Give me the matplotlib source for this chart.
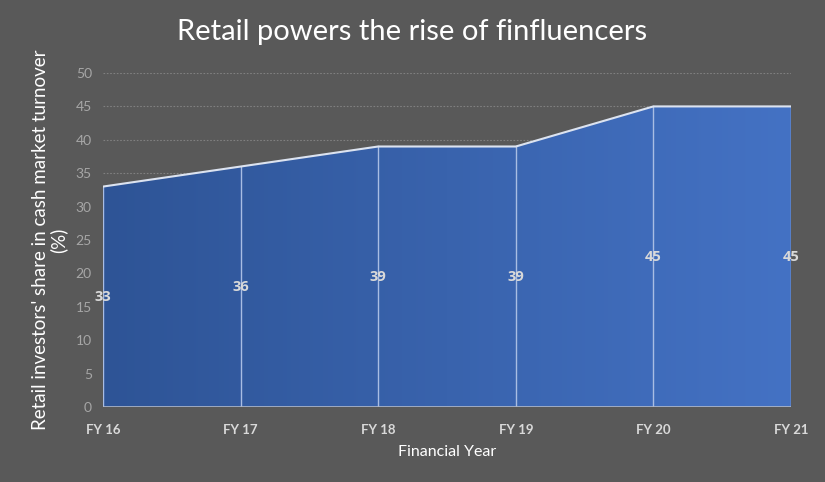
import matplotlib.pyplot as plt
import numpy as np
from matplotlib.colors import LinearSegmentedColormap

years = ["FY 16", "FY 17", "FY 18", "FY 19", "FY 20", "FY 21"]
share = [33, 36, 39, 39, 45, 45]

bg = "#595959"
plt.rcParams['font.family'] = ['Lato', 'DejaVu Sans']

fig = plt.figure(figsize=(8.25, 4.82), dpi=100, facecolor=bg)
ax = fig.add_axes([0.1248, 0.1556, 0.8340, 0.6929])
ax.set_facecolor(bg)

x = np.arange(len(years))
ax.set_xlim(0, len(years) - 1)
ax.set_ylim(0, 50)

# gridlines
for yv in range(5, 55, 5):
    ax.axhline(yv, color="#808080", lw=0.8, ls=(0, (1.5, 1.5)), zorder=0)

# gradient-filled area
poly = ax.fill_between(x, share, 0, facecolor="none", edgecolor="none")
cmap = LinearSegmentedColormap.from_list("g", ["#2E5496", "#4472C4"])
grad = np.linspace(0, 1, 256).reshape(1, -1)
im = ax.imshow(grad, cmap=cmap, aspect="auto", extent=[0, len(years) - 1, 0, 50],
               origin="lower", zorder=1)
im.set_clip_path(poly.get_paths()[0], transform=ax.transData)

ax.plot(x, share, color="#DCE3F0", lw=1.5, zorder=3)
for xi, v in zip(x, share):
    ax.plot([xi, xi], [0, v], color="#A9BDE3", lw=1.0, zorder=2)
    ax.text(xi, v / 2, str(v), ha="center", va="center", fontsize=10.5,
            fontweight="bold", family=["Open Sans", "DejaVu Sans"],
            color="#D9D9D9", zorder=4)
ax.plot([0, len(years) - 1], [0, 0], color="#B0B8C8", lw=1.2, zorder=3)

for s in ax.spines.values():
    s.set_visible(False)
ax.set_yticks(range(0, 55, 5))
ax.set_xticks(x)
ax.set_xticklabels(years, fontweight="bold", fontsize=9.5, color="#D9D9D9")
ax.tick_params(axis="y", length=0, colors="#A6A6A6", labelsize=10, pad=8)
ax.tick_params(axis="x", length=0, pad=12)

ax.set_xlabel("Financial Year", color="white", fontsize=11.5, labelpad=7)
ax.set_ylabel("Retail investors' share in cash market turnover\n(%)", color="white",
              fontsize=13.5, labelpad=6, linespacing=1.05)
fig.suptitle("Retail powers the rise of finfluencers", color="white", fontsize=21,
             x=0.5, y=0.96)

fig.savefig("out.png", dpi=100, facecolor=bg)
